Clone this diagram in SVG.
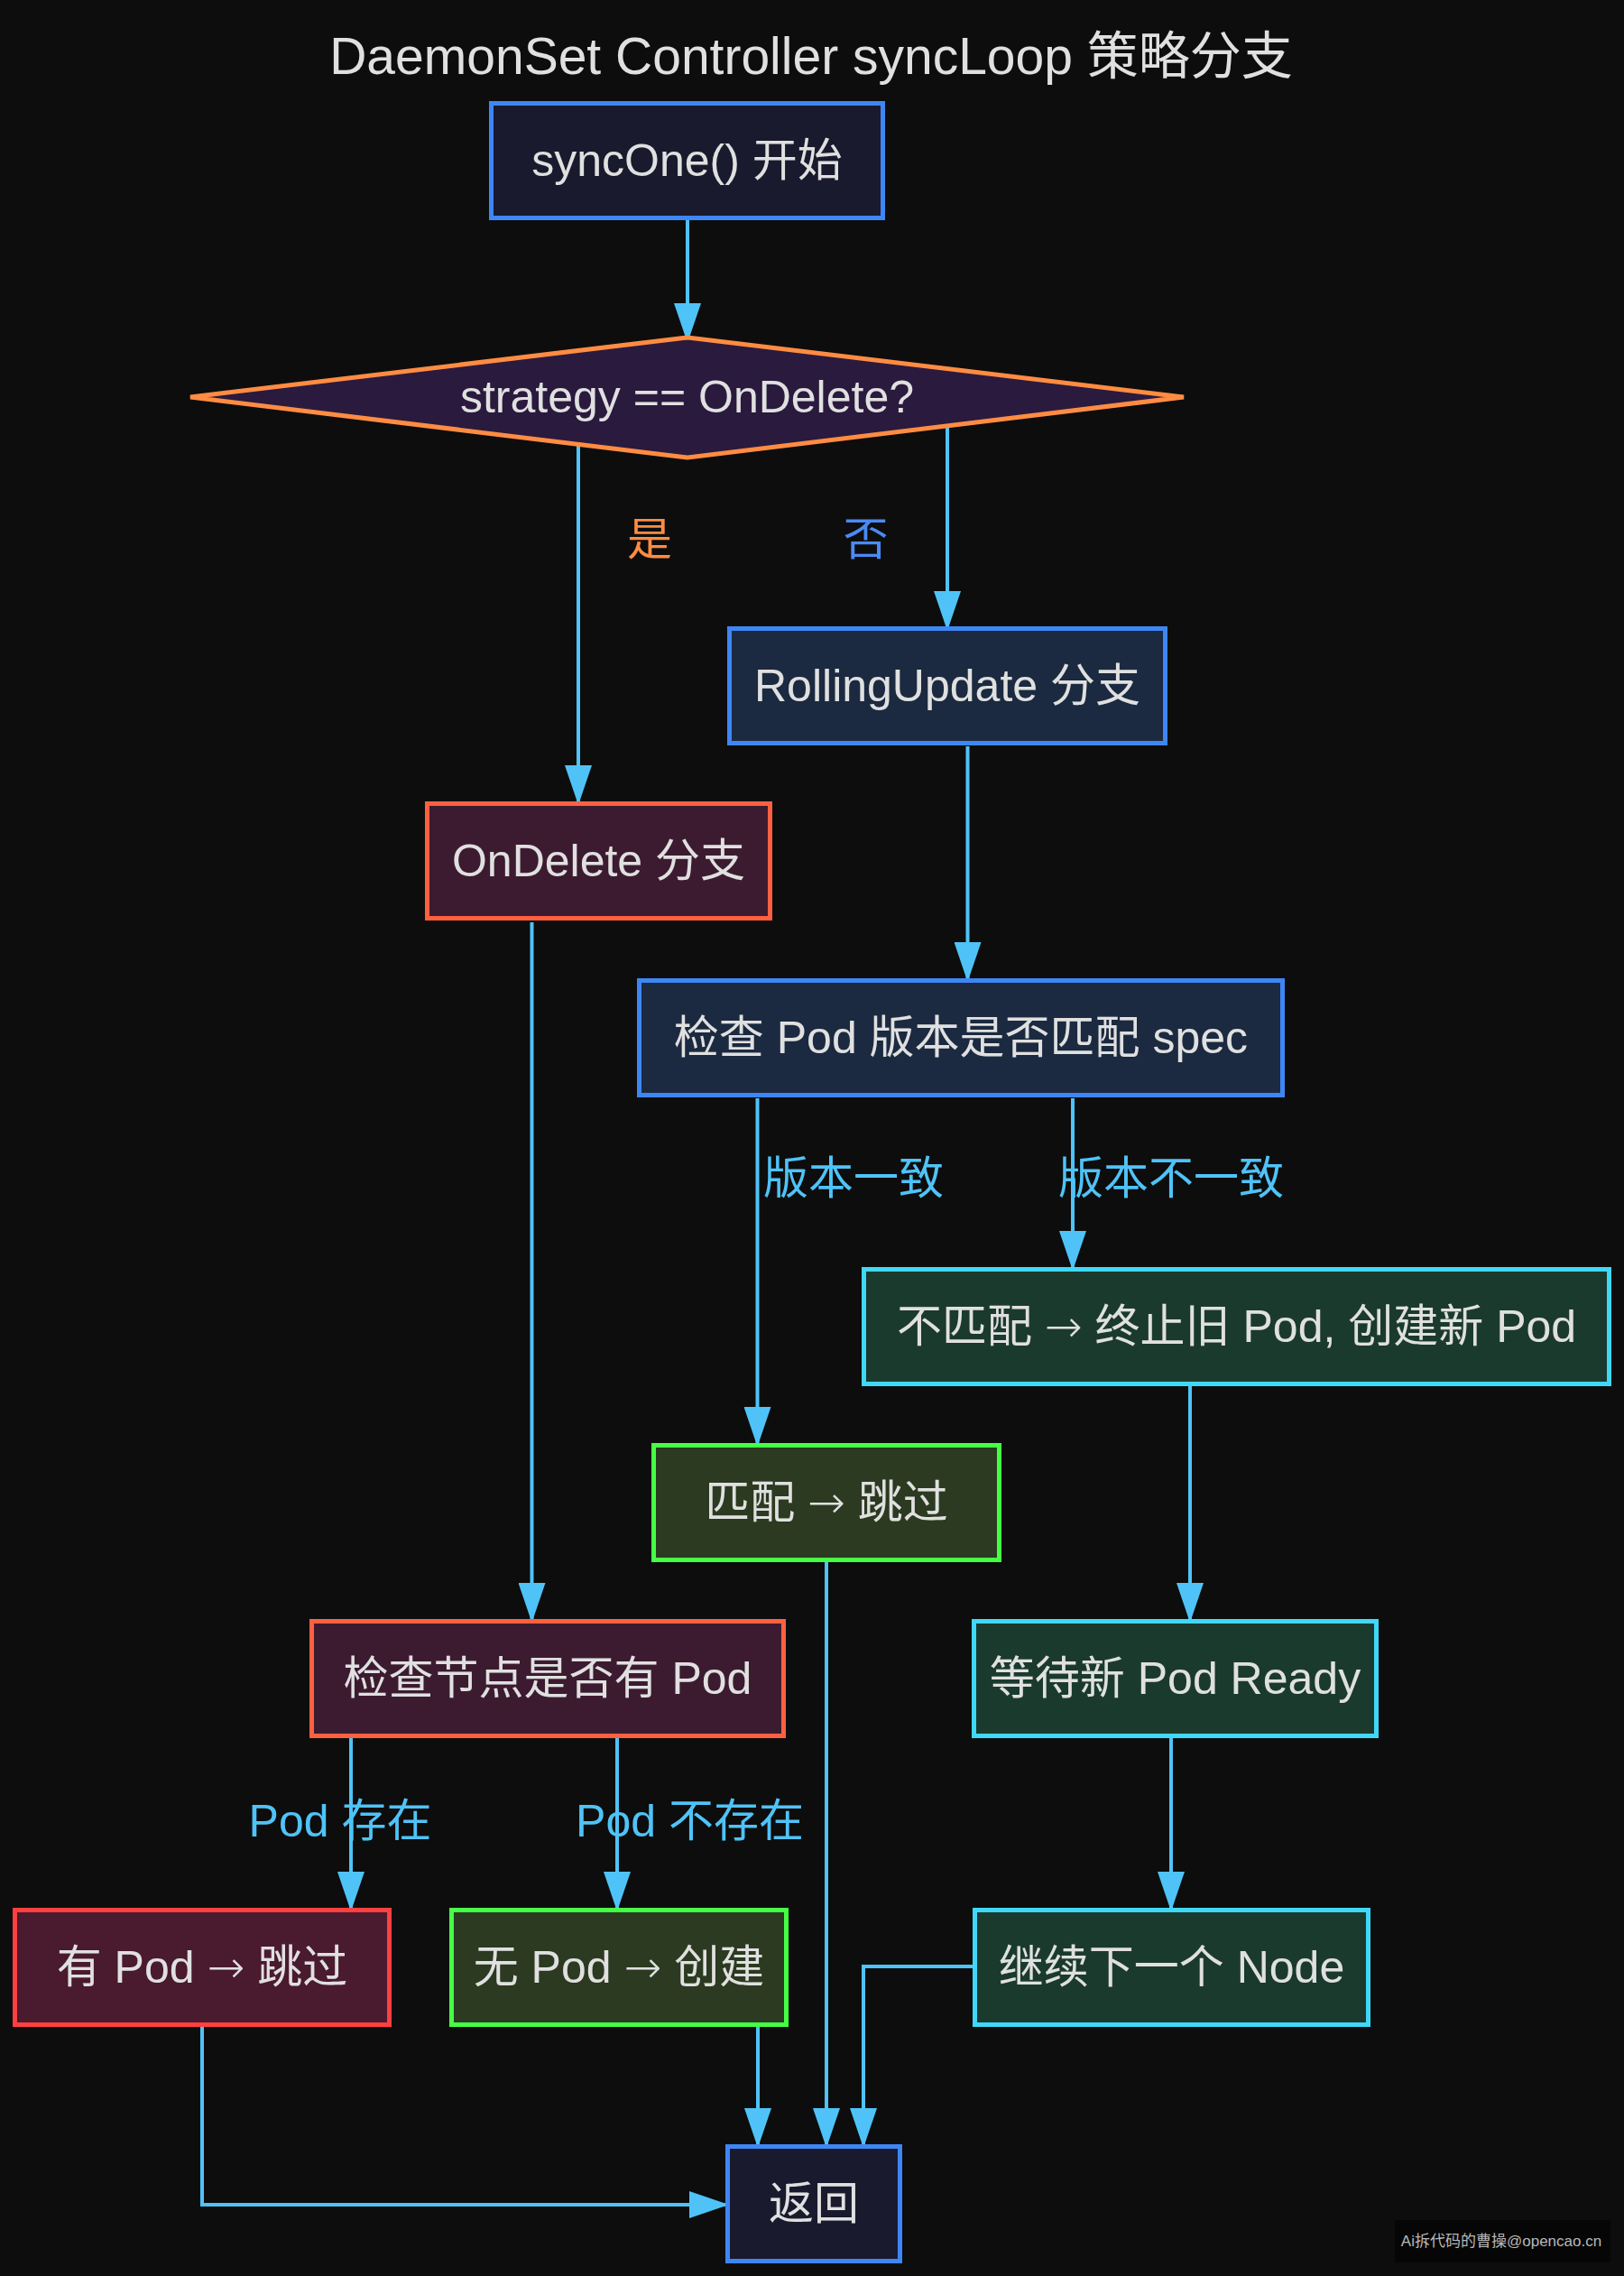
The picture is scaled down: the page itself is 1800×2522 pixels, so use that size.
<svg xmlns="http://www.w3.org/2000/svg" width="1800" height="2522" viewBox="0 0 1800 2522">
<defs>
<marker id="arr" markerUnits="userSpaceOnUse" markerWidth="44" markerHeight="30" refX="44" refY="15" orient="auto">
<path d="M0,0 L44,15 L0,30 Z" fill="#4fc3f7"/>
</marker>
<style>
text{font-family:"Liberation Sans","Noto Sans CJK SC",sans-serif;}
.t{font-size:50px;fill:#e0e0e0;text-anchor:middle;}
.a{font-family:"DejaVu Sans",sans-serif;font-weight:300;}
.lbl{font-size:50px;fill:#4fc3f7;text-anchor:middle;}
.e{fill:none;stroke:#4fc3f7;stroke-width:4;marker-end:url(#arr);}
.blue{fill:#1b2a40;stroke:#3f86f5;stroke-width:5;}
.navy{fill:#1a1a2e;stroke:#3f86f5;stroke-width:5;}
.od{fill:#3c1b30;stroke:#ff6040;stroke-width:5;}
.red{fill:#4a1a2e;stroke:#ff4040;stroke-width:5;}
.grn{fill:#2b3a20;stroke:#44ff44;stroke-width:5;}
.cyan{fill:#1b3a2e;stroke:#40d8f8;stroke-width:5;}
</style>
</defs>
<rect width="1800" height="2522" fill="#0d0d0d"/>
<text x="899" y="82" style="font-size:57px;fill:#e0e0e0;text-anchor:middle">DaemonSet Controller syncLoop 策略分支</text>

<g id="connectors">
<path class="e" d="M762,243 L762,380"/>
<path class="e" d="M641,492 L641,892"/>
<path class="e" d="M1050,472 L1050,699"/>
<path class="e" d="M1072.5,827 L1072.5,1088"/>
<path class="e" d="M589.5,1022 L589.5,1798"/>
<path class="e" d="M839.5,1217 L839.5,1603"/>
<path class="e" d="M1189,1217 L1189,1408"/>
<path class="e" d="M1319,1536 L1319,1798"/>
<path class="e" d="M916,1731 L916,2380"/>
<path class="e" d="M389,1926 L389,2118"/>
<path class="e" d="M684,1926 L684,2118"/>
<path class="e" d="M1298,1926 L1298,2118"/>
<path class="e" d="M224,2245 L224,2443 L808,2443"/>
<path class="e" d="M840,2245 L840,2380"/>
<path class="e" d="M1078,2179 L957,2179 L957,2380"/>
<text x="720" y="615" style="font-size:50px;fill:#ff8c42;text-anchor:middle">是</text>
<text x="959.5" y="615" style="font-size:50px;fill:#4a8af4;text-anchor:middle">否</text>
<text x="946" y="1323" class="lbl">版本一致</text>
<text x="1298" y="1323" class="lbl">版本不一致</text>
<text x="377" y="2035" class="lbl">Pod 存在</text>
<text x="764.5" y="2035" class="lbl">Pod 不存在</text>
</g>

<g id="syncOne"><rect class="navy" x="544.5" y="114.5" width="434" height="127"/><text class="t" x="761.5" y="195">syncOne() 开始</text></g>
<g id="decision"><polygon points="211,440 761.5,374 1312,440 761.5,507" fill="#2a1a3e" stroke="#ff8c42" stroke-width="5"/><text class="t" x="761.5" y="457">strategy == OnDelete?</text></g>
<g id="rolling"><rect class="blue" x="808.5" y="696.5" width="483" height="127"/><text class="t" x="1050" y="777">RollingUpdate 分支</text></g>
<g id="ondelete"><rect class="od" x="473.5" y="890.5" width="380" height="127"/><text class="t" x="663.5" y="971">OnDelete 分支</text></g>
<g id="checkVersion"><rect class="blue" x="708.5" y="1086.5" width="713" height="127"/><text class="t" x="1065" y="1167">检查 Pod 版本是否匹配 spec</text></g>
<g id="mismatch"><rect class="cyan" x="957.5" y="1406.5" width="826" height="127"/><text class="t" x="1370.5" y="1487">不匹配 <tspan class="a">→</tspan> 终止旧 Pod, 创建新 Pod</text></g>
<g id="match"><rect class="grn" x="724.5" y="1601.5" width="383" height="127"/><text class="t" x="916" y="1682">匹配 <tspan class="a">→</tspan> 跳过</text></g>
<g id="checkNode"><rect class="od" x="345.5" y="1796.5" width="523" height="127"/><text class="t" x="607" y="1877">检查节点是否有 Pod</text></g>
<g id="waitReady"><rect class="cyan" x="1079.5" y="1796.5" width="446" height="127"/><text class="t" x="1302.5" y="1877">等待新 Pod Ready</text></g>
<g id="hasPod"><rect class="red" x="16.5" y="2116.5" width="415" height="127"/><text class="t" x="224" y="2197">有 Pod <tspan class="a">→</tspan> 跳过</text></g>
<g id="noPod"><rect class="grn" x="500.5" y="2116.5" width="371" height="127"/><text class="t" x="686" y="2197">无 Pod <tspan class="a">→</tspan> 创建</text></g>
<g id="nextNode"><rect class="cyan" x="1080.5" y="2116.5" width="436" height="127"/><text class="t" x="1298.5" y="2197">继续下一个 Node</text></g>
<g id="return"><rect class="navy" x="806.5" y="2378.5" width="191" height="127"/><text class="t" x="902" y="2459">返回</text></g>

<rect x="1546" y="2460" width="239" height="47" fill="#060606"/>
<text x="1664" y="2489" style="font-size:17px;fill:#b8b8b8;text-anchor:middle">Ai拆代码的曹操@opencao.cn</text>
</svg>
